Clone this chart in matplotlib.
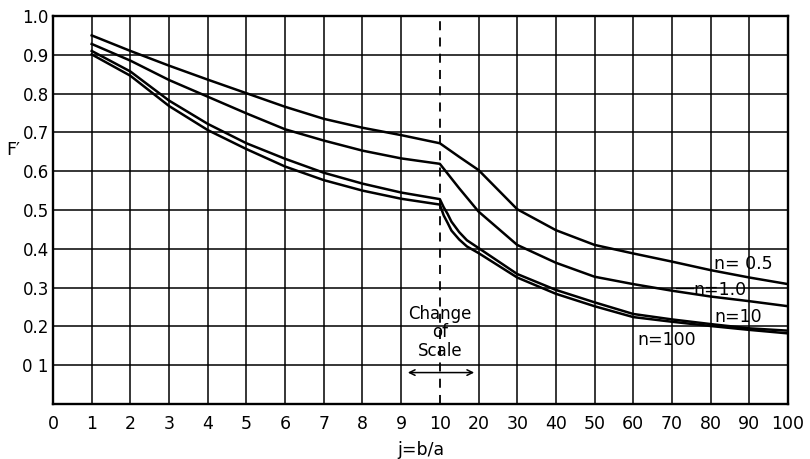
import numpy as np
import matplotlib.pyplot as plt

# x ticks: linear 0..10, then compressed 20..100 ("change of scale" at j = 10)
x_ticks = [0, 1, 2, 3, 4, 5, 6, 7, 8, 9, 10, 20, 30, 40, 50, 60, 70, 80, 90, 100]
y_ticks = [0.1, 0.2, 0.3, 0.4, 0.5, 0.6, 0.7, 0.8, 0.9, 1.0]
y_tick_labels = ["0 1", "0.2", "0.3", "0.4", "0.5", "0.6", "0.7", "0.8", "0.9", "1.0"]

# curves
j_top = [1, 2, 3, 4, 5, 6, 7, 8, 9, 10, 15, 20, 30, 40, 50, 60, 70, 80, 90, 100]
F_n05 = [0.950, 0.910, 0.872, 0.836, 0.801, 0.766, 0.735, 0.712, 0.693, 0.672,
         0.637, 0.603, 0.502, 0.448, 0.410, 0.388, 0.367, 0.345, 0.326, 0.309]
F_n1 = [0.928, 0.885, 0.835, 0.792, 0.749, 0.708, 0.679, 0.653, 0.633, 0.619,
        0.556, 0.496, 0.410, 0.364, 0.328, 0.309, 0.292, 0.277, 0.265, 0.252]

j_pair = [1, 2, 3, 4, 5, 6, 7, 8, 9, 10, 11, 12, 13, 15, 17, 20,
          30, 40, 50, 60, 70, 80, 90, 100]
F_n10 = [0.910, 0.857, 0.782, 0.722, 0.672, 0.632, 0.596, 0.568, 0.545, 0.528,
         0.507, 0.490, 0.470, 0.443, 0.422, 0.402,
         0.335, 0.294, 0.262, 0.232, 0.218, 0.206, 0.195, 0.189]
F_n100 = [0.901, 0.846, 0.768, 0.706, 0.657, 0.612, 0.577, 0.550, 0.529, 0.514,
          0.486, 0.467, 0.447, 0.424, 0.406, 0.389,
          0.326, 0.284, 0.252, 0.224, 0.212, 0.201, 0.191, 0.182]


def fwd(x):
    x = np.asarray(x, dtype=float)
    return np.where(x <= 10, x, 10 + (x - 10) / 10)


def inv(p):
    p = np.asarray(p, dtype=float)
    return np.where(p <= 10, p, 10 + (p - 10) * 10)


plt.rcParams['font.family'] = ['DejaVu Sans']
fig = plt.figure(figsize=(8.1, 4.59), dpi=100)
ax = fig.add_axes([53 / 810, 1 - 404 / 459, 735 / 810, 388 / 459])
ax.set_xscale('function', functions=(fwd, inv))
ax.set_xlim(0, 100)
ax.set_ylim(0, 1.0)

ax.set_xticks(x_ticks)
ax.set_xticklabels([str(t) for t in x_ticks], fontsize=12.5)
ax.set_yticks(y_ticks)
ax.set_yticklabels(y_tick_labels, fontsize=12)
ax.tick_params(length=0)
ax.tick_params(axis='x', pad=8)
ax.tick_params(axis='y', pad=3)

ax.grid(True, color='black', linewidth=1.1)
ax.set_axisbelow(True)
ax.xaxis.get_gridlines()[10].set_visible(False)  # dashed line there instead
for s in ax.spines.values():
    s.set_linewidth(1.7)

ax.axvline(10, color='black', linewidth=1.3, linestyle=(0, (5, 4)))

lw = 1.8
ax.plot(j_top, F_n05, color='black', linewidth=lw)
ax.plot(j_top, F_n1, color='black', linewidth=lw)
ax.plot(j_pair, F_n10, color='black', linewidth=lw)
ax.plot(j_pair, F_n100, color='black', linewidth=lw)

# curve labels
ax.text(81, 0.362, "n= 0.5", fontsize=12.5, va='center', ha='left')
ax.text(75.5, 0.294, "n=1.0", fontsize=12.5, va='center', ha='left')
ax.plot([71, 75.5], [0.298, 0.298], color='black', linewidth=1.0)
ax.text(81, 0.223, "n=10", fontsize=12.5, va='center', ha='left')
ax.text(61, 0.165, "n=100", fontsize=12.5, va='center', ha='left')

# change of scale note
ax.text(10, 0.185, "Change\nof\nScale", fontsize=12, ha='center', va='center',
        linespacing=1.05)
ax.annotate("", xy=(9.1, 0.081), xytext=(19.6, 0.081),
            arrowprops=dict(arrowstyle='<->', color='black', lw=1.1))

ax.set_xlabel("j=b/a", fontsize=12.5, labelpad=6)
fig.text(13 / 810, 1 - 150 / 459, "F\u2032", fontsize=12.5, ha='center', va='center')

fig.savefig("out.png", dpi=100)
